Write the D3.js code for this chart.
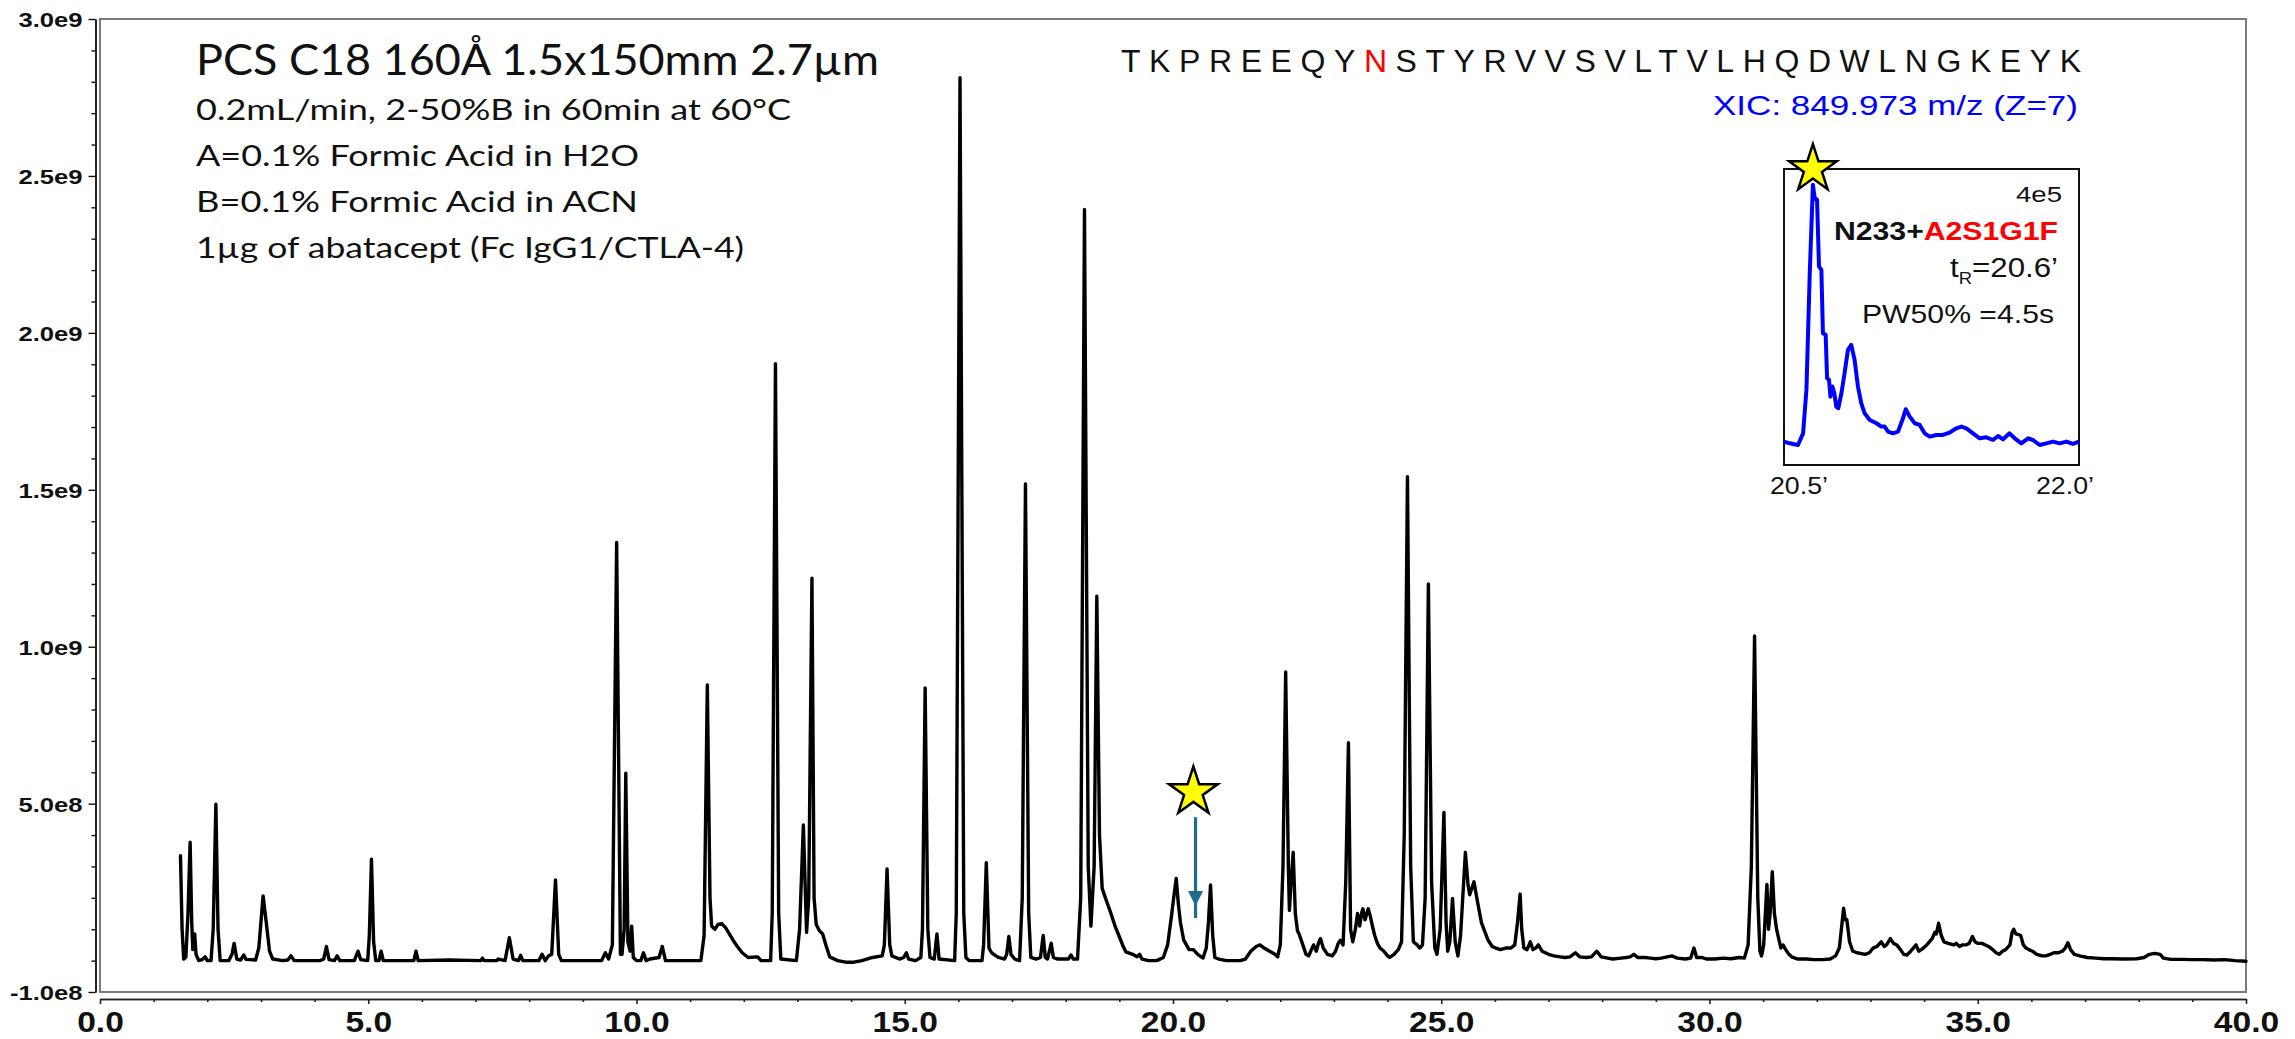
<!DOCTYPE html>
<html><head><meta charset="utf-8">
<script src="https://cdn.jsdelivr.net/npm/d3@7"></script>
<style>html,body{margin:0;padding:0;background:#fff;}svg{display:block}</style>
</head><body>
<svg id="chart" width="2295" height="1039"></svg>
<script>
// ---- data (retention time in min, intensity in units of 1e9) ----
const ticTrace = [
[1.50,0.334],[1.53,0.10],[1.56,0.005],[1.60,0.01],[1.64,0.15],[1.68,0.377],[1.71,0.12],[1.73,0.035],[1.765,0.085],[1.79,0.02],
[1.84,0.0],[1.90,0.003],[1.96,0.012],[2.00,0.0],[2.07,0.0],[2.11,0.1],[2.16,0.498],[2.20,0.1],[2.24,0.0],[2.40,0.0],
[2.46,0.02],[2.50,0.055],[2.55,0.005],[2.62,0.002],[2.68,0.018],[2.72,0.004],[2.80,0.003],[2.90,0.002],[2.96,0.04],[3.04,0.206],
[3.10,0.12],[3.16,0.03],[3.22,0.005],[3.40,0.0],[3.50,0.002],[3.56,0.015],[3.62,0.0],[4.10,0.0],[4.17,0.005],[4.22,0.045],
[4.27,0.003],[4.37,0.0],[4.42,0.015],[4.47,0.0],[4.74,0.0],[4.81,0.03],[4.86,0.003],[4.99,0.0],[5.02,0.08],[5.06,0.323],
[5.10,0.06],[5.14,0.0],[5.20,0.0],[5.24,0.03],[5.28,0.0],[5.85,0.0],[5.89,0.03],[5.93,0.0],[6.5,0.002],[7.10,0.0],[7.13,0.008],
[7.16,0.0],[7.40,0.0],[7.42,0.005],[7.55,0.0],[7.63,0.073],[7.70,0.005],[7.80,0.0],[7.84,0.017],[7.88,0.0],[8.18,0.0],
[8.24,0.02],[8.30,0.0],[8.36,0.015],[8.42,0.02],[8.49,0.257],[8.55,0.02],[8.60,0.0],[9.35,0.0],[9.42,0.025],[9.48,0.005],
[9.55,0.05],[9.63,1.332],[9.70,0.02],[9.73,0.02],[9.77,0.1],[9.80,0.597],[9.84,0.06],[9.88,0.03],[9.91,0.11],[9.94,0.01],
[10.0,0.0],[10.08,0.0],[10.13,0.025],[10.18,0.0],[10.25,0.005],[10.42,0.01],[10.48,0.045],[10.54,0.0],[11.20,0.0],[11.26,0.08],
[11.32,0.878],[11.37,0.2],[11.40,0.11],[11.46,0.1],[11.52,0.115],[11.59,0.118],[11.66,0.105],[11.73,0.085],[11.80,0.065],[11.88,0.045],
[11.97,0.025],[12.08,0.01],[12.26,0.012],[12.32,0.0],[12.50,0.0],[12.53,0.15],[12.59,1.902],[12.65,0.15],[12.69,0.005],[12.98,0.0],
[13.04,0.1],[13.11,0.432],[13.17,0.09],[13.21,0.2],[13.27,1.218],[13.31,0.2],[13.35,0.115],[13.41,0.095],[13.47,0.085],[13.53,0.05],
[13.60,0.012],[13.75,0.0],[13.90,-0.005],[14.05,-0.005],[14.20,0.0],[14.40,0.01],[14.58,0.015],[14.62,0.05],[14.67,0.292],[14.72,0.05],
[14.76,0.015],[14.90,0.005],[14.98,0.01],[15.03,0.025],[15.07,0.005],[15.20,0.0],[15.30,0.01],[15.33,0.1],[15.38,0.869],[15.43,0.1],
[15.47,0.01],[15.55,0.005],[15.60,0.085],[15.64,0.005],[15.93,0.0],[15.96,0.15],[16.03,2.813],[16.10,0.15],[16.14,0.01],[16.20,0.0],
[16.44,0.0],[16.47,0.05],[16.52,0.312],[16.57,0.04],[16.62,0.025],[16.70,0.015],[16.75,0.01],[16.86,0.005],[16.90,0.02],[16.94,0.077],
[16.98,0.02],[17.05,0.005],[17.14,0.0],[17.19,0.2],[17.25,1.519],[17.31,0.15],[17.35,0.01],[17.45,0.005],[17.53,0.01],[17.58,0.08],
[17.62,0.01],[17.66,0.005],[17.73,0.055],[17.77,0.01],[17.85,0.005],[18.05,0.005],[18.10,0.018],[18.14,0.005],[18.22,0.005],[18.28,0.2],
[18.35,2.393],[18.42,0.3],[18.47,0.11],[18.53,0.3],[18.58,1.161],[18.63,0.4],[18.68,0.23],[18.76,0.19],[18.84,0.152],[18.92,0.11],
[19.00,0.076],[19.06,0.05],[19.12,0.028],[19.25,0.02],[19.33,0.012],[19.38,0.02],[19.42,0.005],[19.55,0.0],[19.70,0.0],[19.82,0.01],
[19.90,0.05],[19.97,0.14],[20.02,0.21],[20.06,0.262],[20.10,0.18],[20.14,0.12],[20.20,0.065],[20.25,0.05],[20.30,0.035],[20.38,0.035],
[20.46,0.02],[20.56,0.008],[20.62,0.04],[20.66,0.12],[20.70,0.241],[20.74,0.08],[20.78,0.01],[20.85,0.005],[21.00,0.0],[21.10,0.0],
[21.25,0.0],[21.35,0.005],[21.45,0.03],[21.55,0.045],[21.62,0.05],[21.70,0.04],[21.80,0.03],[21.90,0.02],[21.95,0.012],[22.00,0.05],
[22.05,0.3],[22.10,0.920],[22.15,0.3],[22.17,0.16],[22.20,0.25],[22.24,0.345],[22.28,0.15],[22.32,0.095],[22.35,0.085],[22.42,0.05],
[22.48,0.02],[22.53,0.015],[22.58,0.035],[22.62,0.05],[22.67,0.03],[22.72,0.06],[22.75,0.07],[22.80,0.04],[22.88,0.02],[22.97,0.015],
[23.03,0.03],[23.08,0.055],[23.12,0.065],[23.17,0.05],[23.22,0.25],[23.27,0.694],[23.31,0.1],[23.35,0.06],[23.40,0.1],[23.44,0.15],
[23.48,0.11],[23.52,0.155],[23.54,0.165],[23.58,0.13],[23.64,0.165],[23.68,0.14],[23.71,0.115],[23.76,0.08],[23.81,0.055],[23.86,0.04],
[23.93,0.03],[24.00,0.015],[24.04,0.01],[24.12,0.02],[24.20,0.035],[24.26,0.06],[24.31,0.4],[24.37,1.542],[24.43,0.3],[24.48,0.06],
[24.55,0.05],[24.60,0.04],[24.65,0.05],[24.70,0.2],[24.76,1.20],[24.82,0.25],[24.88,0.04],[24.92,0.02],[24.98,0.1],[25.05,0.472],
[25.09,0.12],[25.12,0.03],[25.16,0.06],[25.21,0.198],[25.26,0.06],[25.31,0.015],[25.36,0.08],[25.45,0.345],[25.50,0.24],[25.53,0.21],
[25.61,0.251],[25.67,0.193],[25.75,0.12],[25.87,0.066],[25.95,0.045],[26.02,0.04],[26.10,0.035],[26.20,0.04],[26.30,0.04],[26.37,0.05],
[26.42,0.12],[26.47,0.212],[26.50,0.1],[26.54,0.04],[26.60,0.035],[26.66,0.06],[26.71,0.035],[26.76,0.04],[26.81,0.05],[26.88,0.03],
[27.00,0.02],[27.10,0.015],[27.22,0.012],[27.30,0.01],[27.40,0.012],[27.50,0.025],[27.58,0.012],[27.70,0.01],[27.80,0.012],[27.90,0.03],
[27.98,0.012],[28.10,0.008],[28.20,0.005],[28.35,0.008],[28.45,0.01],[28.52,0.012],[28.59,0.02],[28.66,0.01],[28.80,0.01],[28.90,0.008],
[29.00,0.006],[29.10,0.008],[29.30,0.015],[29.40,0.008],[29.55,0.005],[29.65,0.008],[29.71,0.04],[29.76,0.01],[29.85,0.01],[29.95,0.005],
[30.10,0.005],[30.25,0.008],[30.40,0.006],[30.55,0.01],[30.65,0.008],[30.72,0.05],[30.78,0.3],[30.84,1.034],[30.90,0.2],[30.94,0.03],
[30.97,0.015],[31.01,0.05],[31.07,0.243],[31.10,0.1],[31.13,0.15],[31.17,0.283],[31.21,0.15],[31.25,0.1],[31.29,0.07],[31.33,0.04],
[31.37,0.05],[31.42,0.035],[31.48,0.02],[31.53,0.012],[31.65,0.005],[31.80,0.005],[31.95,0.003],[32.10,0.003],[32.25,0.005],[32.35,0.015],
[32.42,0.04],[32.50,0.167],[32.53,0.13],[32.56,0.13],[32.61,0.06],[32.67,0.03],[32.75,0.025],[32.90,0.02],[32.98,0.025],[33.05,0.04],
[33.12,0.045],[33.20,0.06],[33.26,0.045],[33.30,0.05],[33.37,0.07],[33.43,0.055],[33.49,0.05],[33.56,0.035],[33.62,0.02],[33.68,0.018],
[33.75,0.03],[33.85,0.05],[33.90,0.03],[33.95,0.035],[34.05,0.05],[34.15,0.07],[34.20,0.09],[34.23,0.085],[34.27,0.119],[34.32,0.08],
[34.37,0.06],[34.45,0.055],[34.55,0.05],[34.60,0.055],[34.66,0.045],[34.71,0.05],[34.78,0.05],[34.84,0.055],[34.90,0.077],[34.95,0.06],
[35.00,0.055],[35.08,0.055],[35.14,0.05],[35.20,0.045],[35.28,0.035],[35.34,0.025],[35.40,0.02],[35.46,0.03],[35.52,0.035],[35.60,0.05],
[35.64,0.09],[35.67,0.1],[35.71,0.085],[35.76,0.083],[35.80,0.08],[35.85,0.05],[35.90,0.04],[35.95,0.035],[36.02,0.03],[36.10,0.02],
[36.20,0.015],[36.27,0.015],[36.35,0.02],[36.42,0.025],[36.50,0.025],[36.58,0.03],[36.63,0.04],[36.68,0.057],[36.73,0.035],[36.80,0.02],
[36.90,0.015],[37.04,0.01],[37.20,0.008],[37.35,0.006],[37.50,0.006],[37.70,0.005],[37.96,0.006],[38.10,0.01],[38.20,0.02],[38.30,0.023],
[38.40,0.02],[38.46,0.008],[38.60,0.004],[38.80,0.004],[39.00,0.003],[39.20,0.003],[39.40,0.002],[39.60,0.003],[39.80,0.0],[40.00,-0.002]
];

// inset XIC (min, intensity in units of 1e5)
const xicTrace = [
[20.500,0.316],[20.529,0.293],[20.571,0.27],[20.597,0.428],[20.614,1.015],[20.631,2.593],[20.647,3.788],[20.656,3.608],[20.668,3.585],
[20.678,2.683],[20.690,2.638],[20.698,1.781],[20.712,1.759],[20.719,1.172],[20.729,1.15],[20.736,0.924],[20.746,1.06],[20.756,0.97],
[20.766,0.789],[20.776,0.767],[20.792,0.97],[20.808,1.24],[20.825,1.556],[20.842,1.623],[20.859,1.42],[20.876,1.06],[20.893,0.834],
[20.910,0.699],[20.936,0.609],[20.970,0.564],[20.995,0.519],[21.012,0.519],[21.029,0.451],[21.054,0.428],[21.080,0.451],[21.105,0.631],
[21.119,0.753],[21.139,0.654],[21.165,0.564],[21.190,0.541],[21.215,0.428],[21.241,0.383],[21.275,0.406],[21.308,0.406],[21.342,0.437],
[21.376,0.496],[21.402,0.519],[21.427,0.496],[21.461,0.428],[21.495,0.361],[21.529,0.374],[21.563,0.338],[21.588,0.392],[21.614,0.347],
[21.647,0.428],[21.673,0.361],[21.707,0.293],[21.741,0.361],[21.766,0.338],[21.800,0.27],[21.834,0.293],[21.868,0.316],[21.902,0.293],
[21.936,0.316],[21.969,0.284],[22.000,0.316]
];

const xTickValues = [0,5,10,15,20,25,30,35,40];
const xTickLabels = ["0.0","5.0","10.0","15.0","20.0","25.0","30.0","35.0","40.0"];
const yTickValues = [-0.1,0.5,1.0,1.5,2.0,2.5,3.0];
const yTickLabels = ["-1.0e8","5.0e8","1.0e9","1.5e9","2.0e9","2.5e9","3.0e9"];
const insetXLabels = ["20.5\u2019","22.0\u2019"];
const sequence = "TKPREEQYNSTYRVVSVLTVLHQDWLNGKEYK";
const glycoSite = 8; // index of N (red)
const methodLines = ["0.2mL/min, 2-50%B in 60min at 60\u00B0C","A=0.1% Formic Acid in H2O","B=0.1% Formic Acid in ACN","1\u00B5g of abatacept (Fc IgG1/CTLA-4)"];
const titleText = "PCS C18 160\u00C5 1.5x150mm 2.7\u00B5m";
const xicLabel = "XIC: 849.973 m/z (Z=7)";
const starMark = {t:20.38, v:0.537};
const arrowMark = {t:20.42, from:0.457, to:0.174};

// ---- drawing ----
const svg = d3.select("#chart");
const SANS = "'Liberation Sans', Arial, Helvetica, sans-serif";
const HUM = "Lato, 'Open Sans', sans-serif";

const x = d3.scaleLinear().domain([0,40]).range([100,2246]);
const y = d3.scaleLinear().domain([-0.1,3.0]).range([992,19]);

// frame
svg.append("rect").attr("x",100).attr("y",19).attr("width",2146).attr("height",973)
  .attr("fill","none").attr("stroke","#7a7a7a").attr("stroke-width",2);

// y axis
const YS = 1.25;
const yMinor = d3.range(-1,30).map(i=>i/10).filter(v=>!yTickValues.some(m=>Math.abs(m-v)<1e-9));
const gyMinor = svg.append("g").attr("transform","translate(95.5,0)")
  .call(d3.axisLeft(y).tickValues(yMinor).tickSize(4).tickSizeOuter(0).tickFormat(""));
const gy = svg.append("g").attr("transform","translate(95.5,0)")
  .call(d3.axisLeft(y).tickValues(yTickValues).tickSize(7).tickSizeOuter(0).tickFormat((d,i)=>yTickLabels[i]));
gy.selectAll("text").attr("font-family",SANS).attr("font-weight","bold").attr("font-size",20.5)
  .attr("fill","#111").attr("x",-13/YS).attr("dy","0.36em").attr("transform",`scale(${YS},1)`);
[gy,gyMinor].forEach(g=>{g.selectAll("line,path").attr("stroke","#111").attr("stroke-width",1.4);});

// x axis
const XS = 1.12;
const xMinor = d3.range(0,41).filter(v=>v%5!==0);
const gxMinor = svg.append("g").attr("transform","translate(0,999)")
  .call(d3.axisBottom(x).tickValues(xMinor).tickSize(3).tickSizeOuter(0).tickFormat(""));
const gx = svg.append("g").attr("transform","translate(0,999)")
  .call(d3.axisBottom(x).tickValues(xTickValues).tickSize(5).tickSizeOuter(0).tickFormat((d,i)=>xTickLabels[i]));
gx.selectAll("text").attr("font-family",SANS).attr("font-weight","bold").attr("font-size",30)
  .attr("fill","#111").attr("y",33.5).attr("dy",0).attr("x",0).attr("transform",`scale(${XS},1)`);
[gx,gxMinor].forEach(g=>{g.selectAll("line,path").attr("stroke","#222").attr("stroke-width",1.6);});

// chromatogram
svg.append("path").datum(ticTrace)
  .attr("d",d3.line().x(d=>x(d[0])).y(d=>y(d[1])))
  .attr("fill","none").attr("stroke","#000").attr("stroke-width",3.4)
  .attr("stroke-linejoin","round").attr("stroke-linecap","round");

// star + arrow
const arrowColor = "#1f6b8e";
svg.append("line").attr("x1",x(arrowMark.t)).attr("x2",x(arrowMark.t))
  .attr("y1",y(arrowMark.from)).attr("y2",y(arrowMark.to)+12)
  .attr("stroke",arrowColor).attr("stroke-width",3.2);
const ax = x(arrowMark.t), ay = y(arrowMark.to);
svg.append("path").attr("d",`M${ax-7.5},${ay-15}L${ax+7.5},${ay-15}L${ax},${ay}Z`).attr("fill",arrowColor);
const star = d3.symbol().type(d3.symbolStar).size(740);
svg.append("path").attr("d",star()).attr("transform",`translate(${x(starMark.t)},${y(starMark.v)})`)
  .attr("fill","#ffff00").attr("stroke","#000").attr("stroke-width",2.5).attr("stroke-linejoin","miter");

// texts top-left
svg.append("text").attr("x",196).attr("y",75).attr("font-family",HUM).attr("font-size",42)
  .attr("textLength",683).attr("lengthAdjust","spacingAndGlyphs").attr("fill","#111").text(titleText);
const lineBase = [120,166,212,258], lineW = [595,443,442,548];
svg.selectAll("text.meth").data(methodLines).join("text").attr("class","meth")
  .attr("x",196).attr("y",(d,i)=>lineBase[i]).attr("font-family",HUM).attr("font-size",28)
  .attr("textLength",(d,i)=>lineW[i]).attr("lengthAdjust","spacingAndGlyphs").attr("fill","#111").text(d=>d);

// sequence (letters evenly spaced)
const seqT = svg.append("text").attr("x",1121).attr("y",72).attr("font-family",SANS).attr("font-size",32)
  .attr("textLength",960).attr("lengthAdjust","spacing").attr("fill","#111");
seqT.selectAll("tspan").data(sequence.split("").map((c,i)=>({c,i}))).join("tspan")
  .attr("fill",d=>d.i===glycoSite?"#ff0000":"#111").text(d=>d.c);
svg.append("text").attr("x",1713).attr("y",115).attr("font-family",SANS).attr("font-size",28)
  .attr("textLength",365).attr("lengthAdjust","spacingAndGlyphs").attr("fill","#0000ff").text(xicLabel);

// inset
const ix = d3.scaleLinear().domain([20.5,22.0]).range([1784,2079]);
const iy = d3.scaleLinear().domain([0,4]).range([465,169]);
svg.append("rect").attr("x",1784).attr("y",169).attr("width",295).attr("height",296)
  .attr("fill","#fff").attr("stroke","#111").attr("stroke-width",2);
svg.append("path").datum(xicTrace).attr("d",d3.line().x(d=>ix(d[0])).y(d=>iy(d[1])))
  .attr("fill","none").attr("stroke","#0000ff").attr("stroke-width",4).attr("stroke-linejoin","round");
svg.append("path").attr("d",d3.symbol().type(d3.symbolStar).size(700)())
  .attr("transform",`translate(${ix(20.647)},${iy(4.0)})`)
  .attr("fill","#ffff00").attr("stroke","#000").attr("stroke-width",2.5);
svg.append("text").attr("x",2016).attr("y",202).attr("font-family",SANS).attr("font-size",22)
  .attr("textLength",46).attr("lengthAdjust","spacingAndGlyphs").attr("fill","#111").text("4e5");
const glyT = svg.append("text").attr("x",1834).attr("y",240).attr("font-family",SANS).attr("font-size",26)
  .attr("font-weight","bold").attr("textLength",224).attr("lengthAdjust","spacingAndGlyphs");
glyT.append("tspan").attr("fill","#111").text("N233+");
glyT.append("tspan").attr("fill","#ff0000").text("A2S1G1F");
const trT = svg.append("text").attr("x",1950).attr("y",277).attr("font-family",SANS).attr("font-size",27)
  .attr("fill","#111").attr("textLength",108).attr("lengthAdjust","spacingAndGlyphs");
trT.append("tspan").text("t");
trT.append("tspan").attr("font-size",16).attr("dy",7).text("R");
trT.append("tspan").attr("dy",-7).text("=20.6\u2019");
svg.append("text").attr("x",1862).attr("y",323).attr("font-family",SANS).attr("font-size",25)
  .attr("textLength",192).attr("lengthAdjust","spacingAndGlyphs").attr("fill","#111").text("PW50% =4.5s");
svg.selectAll("text.ixl").data(insetXLabels).join("text").attr("class","ixl")
  .attr("x",(d,i)=>i===0?1770:2036).attr("y",494).attr("font-family",SANS).attr("font-size",24)
  .attr("textLength",58).attr("lengthAdjust","spacingAndGlyphs").attr("fill","#111").text(d=>d);
</script>
</body></html>
